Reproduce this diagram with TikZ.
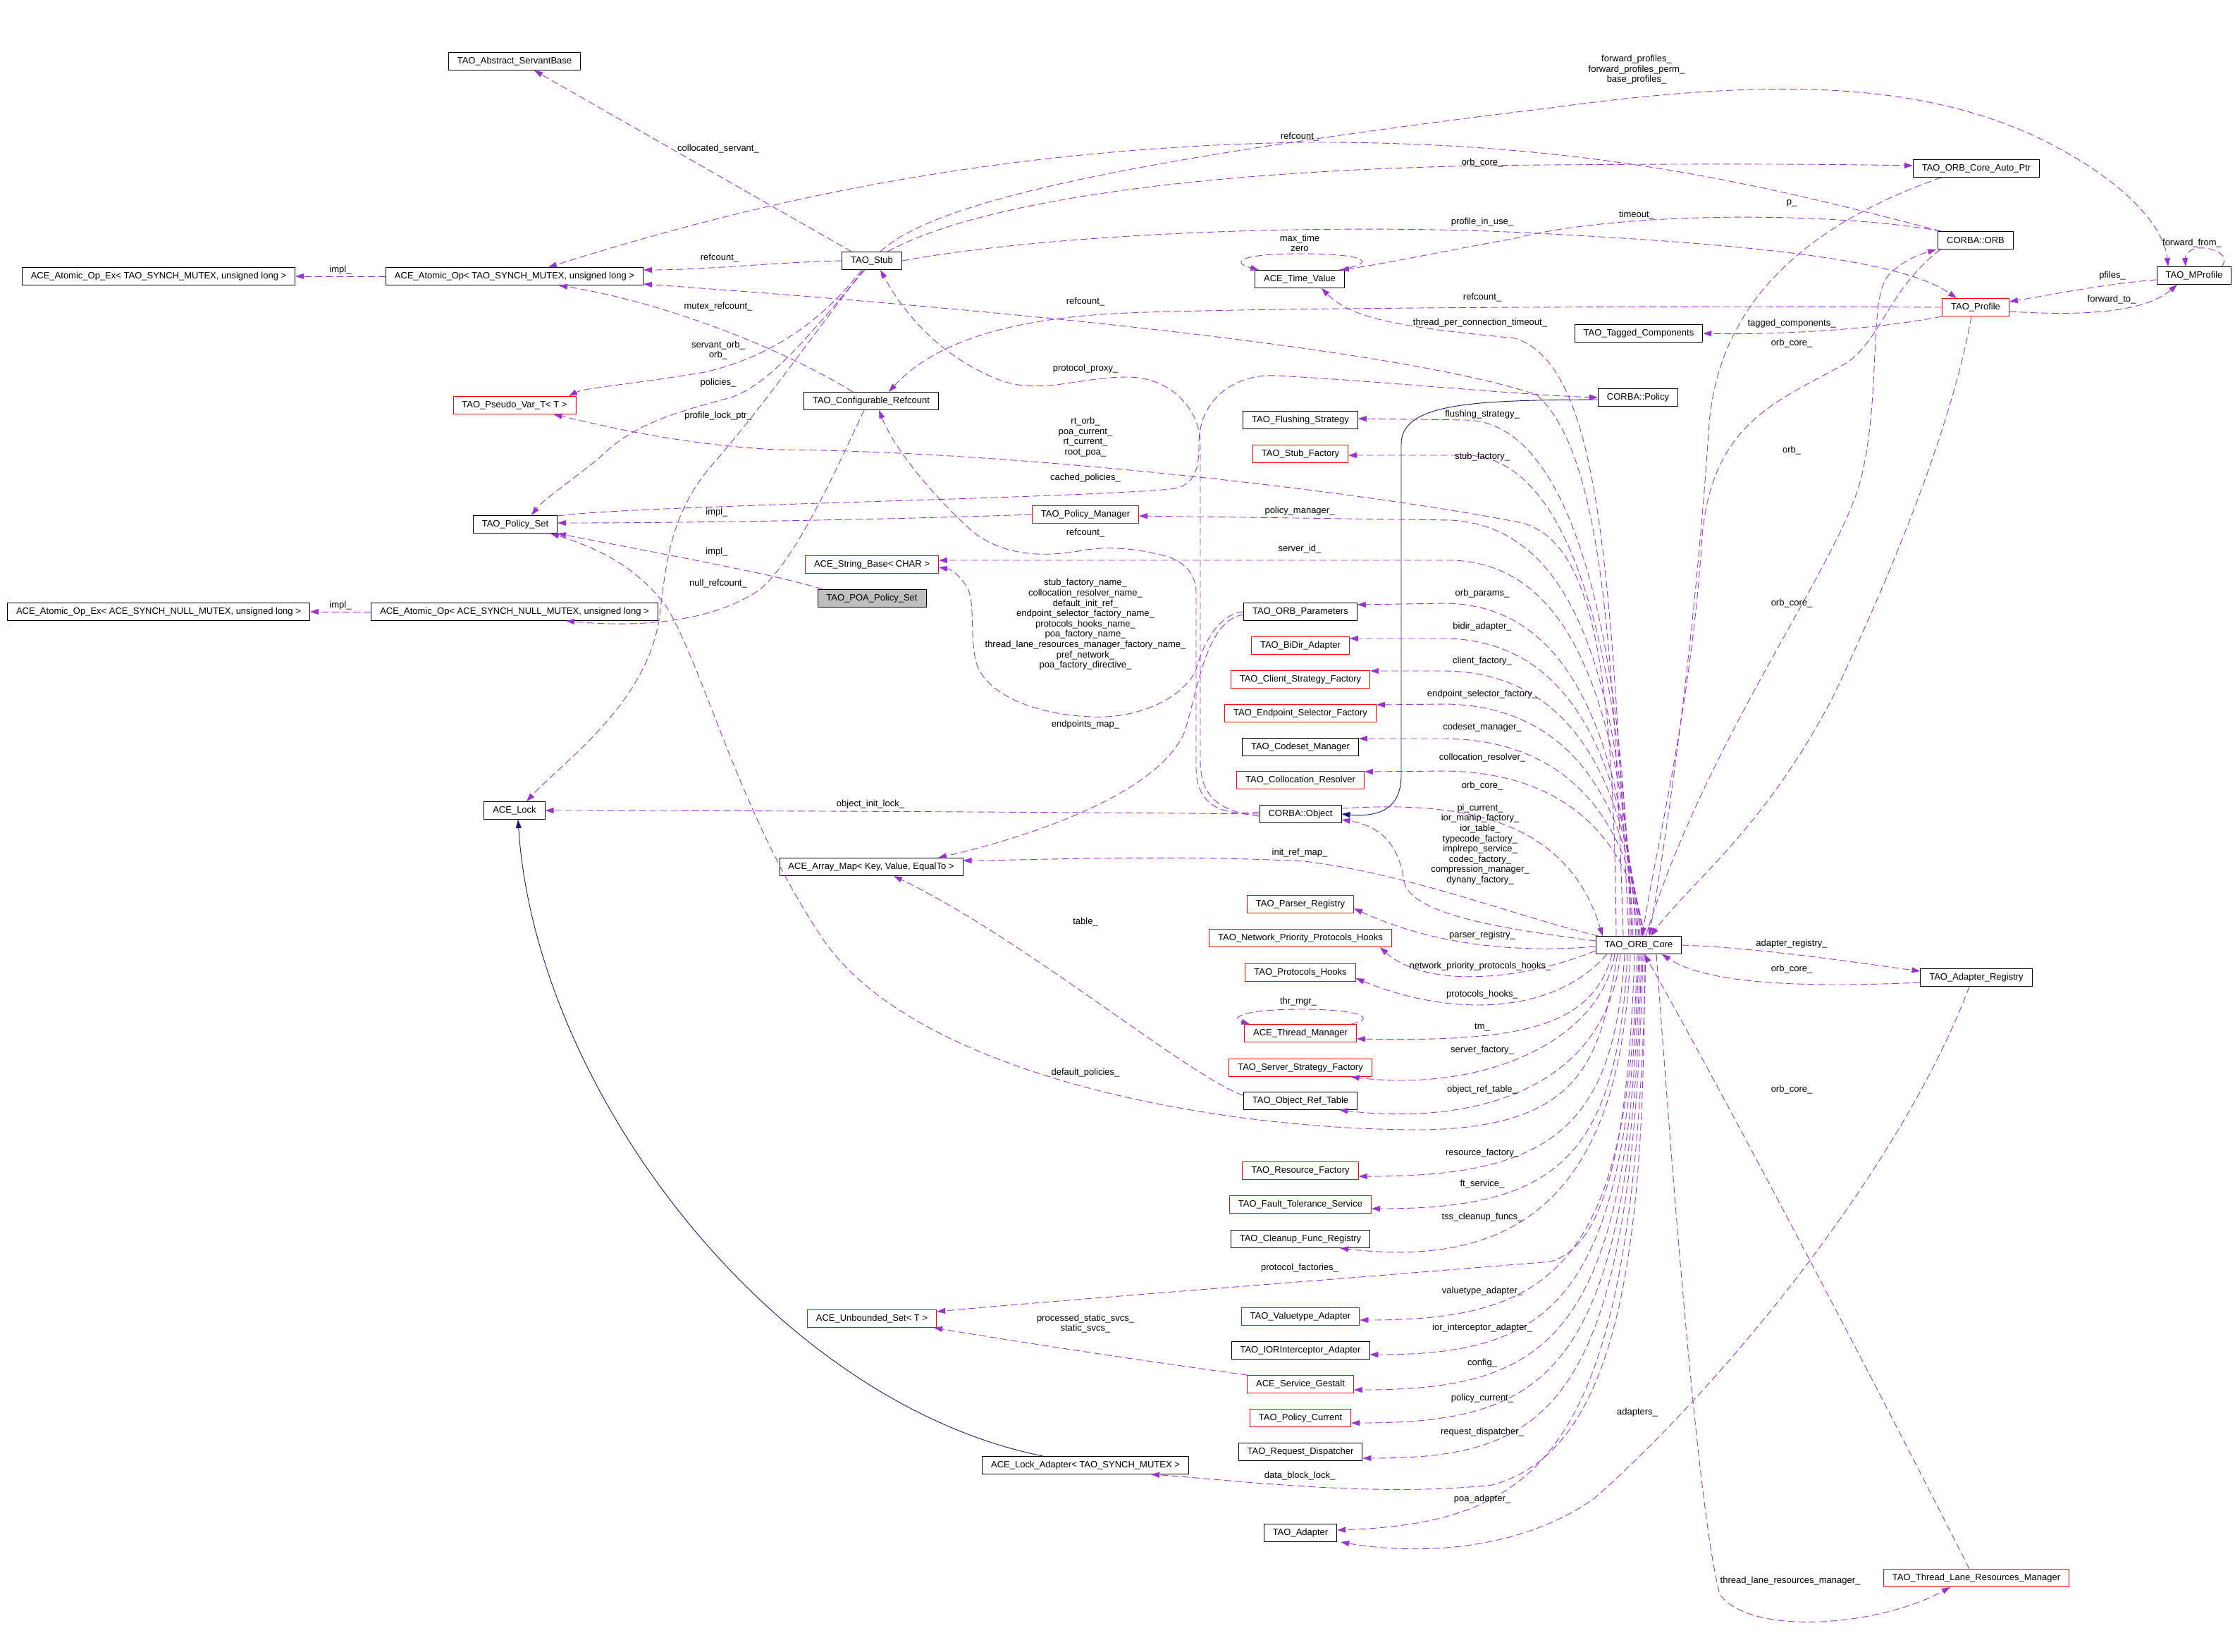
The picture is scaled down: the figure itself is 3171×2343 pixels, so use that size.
\documentclass[tikz,border=0pt]{standalone}
\usepackage{fontspec}
\setmainfont{Liberation Sans}
\usetikzlibrary{arrows.meta}
\definecolor{memcol}{HTML}{9A32CD}
\definecolor{inhcol}{HTML}{191970}
\definecolor{curgray}{HTML}{BFBFBF}
\newcommand{\gvfont}{\fontsize{13}{14.6}\selectfont}
\tikzset{
  cls/.style={draw=black, line width=0.9pt, minimum height=25pt, inner xsep=12.5pt, inner ysep=0pt, font=\gvfont},
  redcls/.style={cls, draw=red},
  curcls/.style={cls, fill=curgray},
  lbl/.style={font=\gvfont, align=center, inner sep=0pt},
  mem/.style={draw=memcol, line width=0.9pt, dash pattern=on 10pt off 5pt, -{Triangle[length=12pt,width=8pt]}},
  inh/.style={draw=inhcol, line width=0.9pt, -{Triangle[length=12pt,width=8pt]}}
}
\begin{document}
\begin{tikzpicture}[x=1pt,y=-1pt]
  \useasboundingbox (0,0) rectangle (3171,2343);

  %% classes, left part
  \node (servant) at (730,87) [cls] {TAO\_Abstract\_ServantBase};
  \node (aopex) at (225,392) [cls] {ACE\_Atomic\_Op\_Ex< TAO\_SYNCH\_MUTEX, unsigned long >};
  \node (aop) at (730,392) [cls] {ACE\_Atomic\_Op< TAO\_SYNCH\_MUTEX, unsigned long >};
  \node (pseudo) at (730,575) [redcls] {TAO\_Pseudo\_Var\_T< T >};
  \node (pset) at (731,744) [cls] {TAO\_Policy\_Set};
  \node (aopnex) at (225,868) [cls] {ACE\_Atomic\_Op\_Ex< ACE\_SYNCH\_NULL\_MUTEX, unsigned long >};
  \node (aopn) at (730,868) [cls] {ACE\_Atomic\_Op< ACE\_SYNCH\_NULL\_MUTEX, unsigned long >};
  \node (lock) at (730,1150) [cls] {ACE\_Lock};

  %% classes, middle
  \node (stub) at (1237,370) [cls] {TAO\_Stub};
  \node (cref) at (1236,569) [cls] {TAO\_Configurable\_Refcount};
  \node (strbase) at (1237,801) [redcls] {ACE\_String\_Base< CHAR >};
  \node (poaps) at (1237,849) [curcls] {TAO\_POA\_Policy\_Set};
  \node (amap) at (1236,1230) [cls] {ACE\_Array\_Map< Key, Value, EqualTo >};
  \node (uset) at (1237,1871) [redcls] {ACE\_Unbounded\_Set< T >};
  \node (pmgr) at (1540,730) [redcls] {TAO\_Policy\_Manager};
  \node (lockad) at (1540,2079) [cls] {ACE\_Lock\_Adapter< TAO\_SYNCH\_MUTEX >};

  %% members of the ORB core
  \node (tval) at (1844,396) [cls] {ACE\_Time\_Value};
  \node (flush) at (1845,596) [cls] {TAO\_Flushing\_Strategy};
  \node (stubf) at (1845,644) [redcls] {TAO\_Stub\_Factory};
  \node (oparams) at (1845,868) [cls] {TAO\_ORB\_Parameters};
  \node (bidir) at (1845,916) [redcls] {TAO\_BiDir\_Adapter};
  \node (csf) at (1845,964) [redcls] {TAO\_Client\_Strategy\_Factory};
  \node (esf) at (1845,1012) [redcls] {TAO\_Endpoint\_Selector\_Factory};
  \node (csm) at (1845,1060) [cls] {TAO\_Codeset\_Manager};
  \node (colres) at (1845,1107) [redcls] {TAO\_Collocation\_Resolver};
  \node (cobj) at (1845,1155) [cls] {CORBA::Object};
  \node (preg) at (1845,1283) [redcls] {TAO\_Parser\_Registry};
  \node (nph) at (1845,1331) [redcls] {TAO\_Network\_Priority\_Protocols\_Hooks};
  \node (phooks) at (1845,1380) [redcls] {TAO\_Protocols\_Hooks};
  \node (thrmgr) at (1845,1466) [redcls] {ACE\_Thread\_Manager};
  \node (ssf) at (1845,1515) [redcls] {TAO\_Server\_Strategy\_Factory};
  \node (oreft) at (1845,1562) [cls] {TAO\_Object\_Ref\_Table};
  \node (resf) at (1845,1661) [redcls] {TAO\_Resource\_Factory};
  \node (fts) at (1845,1709) [redcls] {TAO\_Fault\_Tolerance\_Service};
  \node (cfr) at (1845,1758) [cls] {TAO\_Cleanup\_Func\_Registry};
  \node (vta) at (1845,1868) [redcls] {TAO\_Valuetype\_Adapter};
  \node (iora) at (1845,1916) [cls] {TAO\_IORInterceptor\_Adapter};
  \node (gestalt) at (1845,1964) [redcls] {ACE\_Service\_Gestalt};
  \node (pcur) at (1845,2012) [redcls] {TAO\_Policy\_Current};
  \node (rdisp) at (1845,2060) [cls] {TAO\_Request\_Dispatcher};
  \node (adapter) at (1845,2175) [cls] {TAO\_Adapter};

  %% classes, right part
  \node (tcomp) at (2325,473) [cls] {TAO\_Tagged\_Components};
  \node (cpol) at (2324,564) [cls] {CORBA::Policy};
  \node (core) at (2325,1341) [cls] {TAO\_ORB\_Core};
  \node (autoptr) at (2804,239) [cls] {TAO\_ORB\_Core\_Auto\_Ptr};
  \node (corb) at (2803,341) [cls] {CORBA::ORB};
  \node (profile) at (2803,436) [redcls] {TAO\_Profile};
  \node (areg) at (2804,1387) [cls] {TAO\_Adapter\_Registry};
  \node (tlrm) at (2804,2239) [redcls] {TAO\_Thread\_Lane\_Resources\_Manager};
  \node (mprof) at (3113,391) [cls] {TAO\_MProfile};

  %% inheritance
  \draw[inh] ([xshift=-60pt]lockad.north) .. controls (1100,1990) and (760,1550) .. ([xshift=5pt]lock.south);
  \draw[inh] ([yshift=-3pt]cpol.west) .. controls (2100,568) and (1988,570) .. (1988,630) -- (1988,1100) .. controls (1988,1145) and (1960,1160) .. (cobj.east);

  %% left part
  \draw[mem] (aop.west) -- (aopex.east);
  \draw[mem] (aopn.west) -- (aopnex.east);
  \draw[mem] ([xshift=14pt]stub.north west) -- ([xshift=28pt]servant.south);
  \draw[mem] (stub.west) .. controls (1100,372) and (1000,383) .. ([yshift=9pt]aop.east);
  \draw[mem] ([xshift=5pt]corb.north west) .. controls (2500,262) and (2250,200) .. (1850,202) .. controls (1350,210) and (1000,310) .. ([xshift=48pt]aop.north);
  \draw[mem] ([xshift=-22pt]core.north) .. controls (2290,900) and (2270,640) .. (2180,560) .. controls (2000,500) and (1500,445) .. ([yshift=-11pt]aop.east);
  \draw[mem] ([xshift=-26pt]cref.north) .. controls (1120,500) and (950,430) .. ([xshift=63pt]aop.south);
  \draw[mem] ([xshift=-10pt]cref.south) .. controls (1180,680) and (1130,790) .. (1080,835) .. controls (1010,885) and (900,890) .. ([xshift=73pt]aopn.south);
  \draw[mem] ([xshift=-14pt]stub.south) .. controls (1170,450) and (1100,505) .. (1000,528) .. controls (900,545) and (830,550) .. ([xshift=77pt]pseudo.north);
  \draw[mem] ([xshift=-10pt]stub.south) .. controls (1160,460) and (1100,540) .. (1040,563) .. controls (960,585) and (900,600) .. (850,650) .. controls (800,690) and (770,710) .. ([xshift=23pt]pset.north);
  \draw[mem] ([xshift=-12pt]stub.south) .. controls (1150,480) and (1080,580) .. (1010,660) .. controls (950,730) and (945,800) .. (935,880) .. controls (915,1000) and (800,1080) .. ([xshift=17pt]lock.north);
  \draw[mem] ([xshift=-32pt]core.north) .. controls (2290,950) and (2260,770) .. (2160,742) .. controls (1950,700) and (1450,640) .. (1100,638) .. controls (960,630) and (860,605) .. ([xshift=-32pt]pseudo.south east);
  \draw[mem] ([yshift=12pt]pset.east) .. controls (900,717) and (1500,708) .. (1661,694) .. controls (1698,690) and (1701,660) .. (1701,630) .. controls (1701,560) and (1760,530) .. (1810,533) .. controls (1950,540) and (2150,560) .. (cpol.west);
  \draw[mem] (pmgr.west) .. controls (1300,736) and (1000,742) .. ([yshift=2pt]pset.east);
  \draw[mem] ([xshift=-70pt]poaps.north) .. controls (1100,815) and (960,790) .. (pset.south east);
  \draw[mem] ([xshift=-30pt]core.south) .. controls (2270,1500) and (2250,1605) .. (2000,1603) .. controls (1700,1600) and (1300,1520) .. (1170,1336) .. controls (1050,1160) and (1000,950) .. (945,860) .. controls (900,800) and (840,775) .. ([xshift=-10pt]pset.south east);
  \draw[mem] (cobj.west) .. controls (1500,1152) and (1000,1150) .. (lock.east);

  %% top right
  \draw[mem] ([xshift=12pt]stub.north) .. controls (1330,280) and (1650,220) .. (2200,153) .. controls (2480,115) and (2700,110) .. (2880,190) .. controls (3010,250) and (3070,320) .. ([xshift=-37pt]mprof.north);
  \draw[mem] ([xshift=22pt]stub.north) .. controls (1400,280) and (1750,236) .. (2200,234) .. controls (2450,232) and (2600,233) .. ([yshift=4pt]autoptr.west);
  \draw[mem] (stub.east) .. controls (1500,330) and (1900,315) .. (2200,332) .. controls (2500,348) and (2700,370) .. ([xshift=-27pt]profile.north);
  \draw[mem] (profile.west) .. controls (2400,434) and (1800,436) .. (1600,444) .. controls (1450,450) and (1330,480) .. ([xshift=25pt]cref.north);
  \draw[mem] ([xshift=-14pt]core.north) .. controls (2285,800) and (2270,520) .. (2150,480) .. controls (2000,465) and (1920,455) .. ([xshift=31pt]tval.south);
  \draw[mem] ([xshift=5pt]corb.north west) .. controls (2600,300) and (2300,300) .. (2150,338) .. controls (2030,360) and (1960,375) .. ([xshift=-6pt]tval.north east);
  \draw[mem] ([xshift=-8pt]tval.north east) .. controls (1960,372) and (1935,360) .. (1844,360) .. controls (1760,360) and (1745,372) .. ([xshift=6pt]tval.north west);
  \draw[mem] ([xshift=-50pt]autoptr.south) .. controls (2560,320) and (2440,430) .. (2425,600) .. controls (2405,900) and (2370,1150) .. ([xshift=15pt]core.north);
  \draw[mem] ([xshift=-50pt]corb.south) .. controls (2680,410) and (2670,480) .. (2620,515) .. controls (2520,570) and (2430,600) .. (2415,760) .. controls (2400,1000) and (2350,1200) .. ([xshift=5pt]core.north);
  \draw[mem] ([xshift=10pt]core.north) .. controls (2420,1050) and (2610,800) .. (2640,680) .. controls (2670,560) and (2650,420) .. (2680,390) .. controls (2700,370) and (2720,362) .. ([xshift=-56pt]corb.south);
  \draw[mem] (profile.south west) .. controls (2650,470) and (2500,475) .. (tcomp.east);
  \draw[mem] ([xshift=-6pt]profile.south) .. controls (2770,600) and (2690,800) .. (2600,990) .. controls (2500,1180) and (2400,1250) .. ([xshift=17pt]core.north);
  \draw[mem] ([yshift=-6pt]mprof.west) .. controls (2990,402) and (2900,420) .. ([yshift=8pt]profile.east);
  \draw[mem] ([yshift=-6pt]profile.east) .. controls (2950,448) and (3040,445) .. ([xshift=-24pt]mprof.south);
  \draw[mem] ([xshift=-14pt]mprof.north east) .. controls (3165,362) and (3140,350) .. (3118,352) .. controls (3103,354) and (3100,365) .. ([xshift=-12pt]mprof.north);

  %% ORB core to the column of members, upper half
  \draw[mem] ([xshift=-12pt]core.north) .. controls (2305,900) and (2230,598) .. (2080,596) -- ([yshift=2pt]flush.east);
  \draw[mem] ([xshift=-10pt]core.north) .. controls (2303,930) and (2230,648) .. (2080,646) -- ([yshift=-2pt]stubf.east);
  \draw[mem] ([xshift=-8pt]core.north) .. controls (2300,950) and (2230,750) .. (2060,738) -- ([yshift=-2pt]pmgr.east);
  \draw[mem] ([xshift=-4pt]core.north) .. controls (2300,1000) and (2230,800) .. (2060,795) -- ([yshift=6pt]strbase.east);
  \draw[mem] ([xshift=-2pt]core.north) .. controls (2300,1050) and (2230,858) .. (2050,856) -- ([yshift=10pt]oparams.east);
  \draw[mem] (core.north) .. controls (2305,1080) and (2230,908) .. (2050,906) -- ([yshift=10pt]bidir.east);
  \draw[mem] ([xshift=2pt]core.north) .. controls (2308,1110) and (2230,954) .. (2050,952) -- ([yshift=12pt]csf.east);
  \draw[mem] ([xshift=4pt]core.north) .. controls (2310,1140) and (2230,1001) .. (2050,999) -- ([yshift=12pt]esf.east);
  \draw[mem] ([xshift=6pt]core.north) .. controls (2312,1170) and (2230,1050) .. (2050,1048) -- ([yshift=12pt]csm.east);
  \draw[mem] ([xshift=8pt]core.north) .. controls (2314,1200) and (2230,1096) .. (2050,1094) -- ([yshift=12pt]colres.east);
  \draw[mem] ([yshift=8pt]cobj.east) .. controls (2050,1138) and (2220,1150) .. ([xshift=10pt]core.north west);
  \draw[mem] ([yshift=6pt]core.west) .. controls (2150,1320) and (2000,1300) .. (1992,1250) .. controls (1985,1200) and (1960,1172) .. ([yshift=-8pt]cobj.east);
  \draw[mem] ([xshift=4pt]core.north west) .. controls (2150,1300) and (2000,1240) .. (1850,1222) .. controls (1650,1212) and (1450,1221) .. ([yshift=9pt]amap.east);

  %% ORB core to the column of members, lower half
  \draw[mem] ([yshift=-2pt]core.west) .. controls (2120,1355) and (2010,1330) .. ([yshift=-6pt]preg.east);
  \draw[mem] ([yshift=-8pt]core.west) .. controls (2150,1395) and (2020,1400) .. ([xshift=-17pt]nph.south east);
  \draw[mem] ([xshift=-45pt]core.south) .. controls (2200,1445) and (2050,1440) .. ([yshift=-8pt]phooks.east);
  \draw[mem] ([xshift=-38pt]core.south) .. controls (2260,1460) and (2150,1478) .. ([yshift=-8pt]thrmgr.east);
  \draw[mem] ([xshift=-8pt]thrmgr.north east) .. controls (1955,1445) and (1930,1432) .. (1845,1432) .. controls (1760,1432) and (1745,1445) .. ([xshift=8pt]thrmgr.north west);
  \draw[mem] ([xshift=-34pt]core.south) .. controls (2270,1480) and (2100,1550) .. ([xshift=-30pt]ssf.south east);
  \draw[mem] ([xshift=-26pt]core.south) .. controls (2280,1540) and (2100,1598) .. ([xshift=-26pt]oreft.south east);
  \draw[mem] ([xshift=-20pt]core.south) .. controls (2290,1600) and (2200,1670) .. ([yshift=-8pt]resf.east);
  \draw[mem] ([xshift=-16pt]core.south) .. controls (2295,1650) and (2200,1715) .. ([yshift=-6pt]fts.east);
  \draw[mem] ([xshift=-12pt]core.south) .. controls (2300,1700) and (2150,1800) .. ([xshift=-43pt]cfr.south east);
  \draw[mem] ([xshift=-6pt]core.south) .. controls (2310,1650) and (2270,1770) .. (2200,1790) .. controls (1900,1815) and (1500,1845) .. ([yshift=10pt]uset.east);
  \draw[mem] ([xshift=-2pt]core.south) .. controls (2310,1800) and (2200,1873) .. ([yshift=-5pt]vta.east);
  \draw[mem] (core.south) .. controls (2310,1850) and (2200,1922) .. ([yshift=-6pt]iora.east);
  \draw[mem] ([xshift=2pt]core.south) .. controls (2312,1900) and (2200,1972) .. ([yshift=-8pt]gestalt.east);
  \draw[mem] ([xshift=4pt]core.south) .. controls (2314,1950) and (2200,2019) .. ([yshift=-7pt]pcur.east);
  \draw[mem] ([xshift=6pt]core.south) .. controls (2316,2000) and (2200,2069) .. ([yshift=-9pt]rdisp.east);
  \draw[mem] ([xshift=8pt]core.south) .. controls (2335,1800) and (2290,2060) .. (2117,2107) .. controls (1950,2125) and (1750,2100) .. ([xshift=93pt]lockad.south);
  \draw[mem] ([xshift=10pt]core.south) .. controls (2320,2050) and (2200,2160) .. ([yshift=4pt]adapter.east);
  \draw[mem] ([xshift=-75pt]gestalt.north) .. controls (1650,1935) and (1450,1905) .. ([xshift=-4pt]uset.south east);

  %% adapters and thread lanes
  \draw[mem] (core.east) .. controls (2500,1345) and (2650,1368) .. ([yshift=9pt]areg.west);
  \draw[mem] ([yshift=-7pt]areg.west) .. controls (2550,1402) and (2420,1395) .. ([xshift=33pt]core.south);
  \draw[mem] ([xshift=-10pt]areg.south) .. controls (2700,1650) and (2450,1960) .. (2262,2126) .. controls (2150,2205) and (2000,2205) .. ([xshift=5pt]adapter.south east);
  \draw[mem] ([xshift=-10pt]tlrm.north) .. controls (2680,2000) and (2450,1560) .. ([xshift=8pt]core.south);
  \draw[mem] ([xshift=25pt]core.south) .. controls (2375,1700) and (2410,2150) .. (2440,2262) .. controls (2480,2320) and (2660,2310) .. ([xshift=-37pt]tlrm.south);

  %% CORBA::Object and ORB parameters
  \draw[mem] ([yshift=-3pt]cobj.west) .. controls (1730,1152) and (1703,1130) .. (1703,1080) -- (1703,630) .. controls (1703,580) and (1660,535) .. (1600,535) .. controls (1530,535) and (1480,560) .. (1420,540) .. controls (1330,505) and (1280,440) .. ([xshift=12pt]stub.south);
  \draw[mem] ([yshift=3pt]cobj.west) .. controls (1725,1160) and (1697,1135) .. (1697,1090) -- (1697,840) .. controls (1697,815) and (1680,795) .. (1650,788) .. controls (1610,778) and (1570,774) .. (1530,782) .. controls (1470,792) and (1420,785) .. (1381,755) .. controls (1330,710) and (1270,640) .. ([xshift=11pt]cref.south);
  \draw[mem] (oparams.west) .. controls (1725,872) and (1705,920) .. (1696,953) .. controls (1670,1000) and (1600,1020) .. (1549,1017) .. controls (1480,1015) and (1400,990) .. (1385,940) .. controls (1375,900) and (1385,850) .. (1370,830) .. controls (1360,815) and (1350,808) .. ([yshift=-4pt]strbase.east);
  \draw[mem] ([yshift=-4pt]oparams.west) .. controls (1710,880) and (1700,980) .. (1680,1040) .. controls (1640,1130) and (1450,1190) .. ([xshift=95pt]amap.north);
  \draw[mem] ([yshift=8pt]oreft.west) .. controls (1690,1530) and (1450,1330) .. ([xshift=32pt]amap.south);

  %% labels
  \node (l1) at (483,383) [lbl] {impl\_};
  \node (l2) at (483,859) [lbl] {impl\_};
  \node (l3) at (1019,211) [lbl] {collocated\_servant\_};
  \node (l4) at (1021,366) [lbl] {refcount\_};
  \node (l5) at (1019,435) [lbl] {mutex\_refcount\_};
  \node (l6) at (1019,497) [lbl] {servant\_orb\_\\orb\_};
  \node (l7) at (1019,543) [lbl] {policies\_};
  \node (l8) at (1019,590) [lbl] {profile\_lock\_ptr\_};
  \node (l9) at (1017,727) [lbl] {impl\_};
  \node (l10) at (1017,783) [lbl] {impl\_};
  \node (l11) at (1019,828) [lbl] {null\_refcount\_};
  \node (l12) at (1844,194) [lbl] {refcount\_};
  \node (l13) at (2103,231) [lbl] {orb\_core\_};
  \node (l14) at (2103,315) [lbl] {profile\_in\_use\_};
  \node (l15) at (1844,345) [lbl] {max\_time\\zero};
  \node (l16) at (1540,428) [lbl] {refcount\_};
  \node (l17) at (2103,422) [lbl] {refcount\_};
  \node (l18) at (2100,458) [lbl] {thread\_per\_connection\_timeout\_};
  \node (l19) at (1540,523) [lbl] {protocol\_proxy\_};
  \node (l20) at (1540,620) [lbl] {rt\_orb\_\\poa\_current\_\\rt\_current\_\\root\_poa\_};
  \node (l21) at (1540,678) [lbl] {cached\_policies\_};
  \node (l22) at (1540,756) [lbl] {refcount\_};
  \node (l23) at (2103,588) [lbl] {flushing\_strategy\_};
  \node (l24) at (2103,648) [lbl] {stub\_factory\_};
  \node (l25) at (1844,725) [lbl] {policy\_manager\_};
  \node (l26) at (1844,779) [lbl] {server\_id\_};
  \node (l27) at (1540,886) [lbl] {stub\_factory\_name\_\\collocation\_resolver\_name\_\\default\_init\_ref\_\\endpoint\_selector\_factory\_name\_\\protocols\_hooks\_name\_\\poa\_factory\_name\_\\thread\_lane\_resources\_manager\_factory\_name\_\\pref\_network\_\\poa\_factory\_directive\_};
  \node (l28) at (1540,1028) [lbl] {endpoints\_map\_};
  \node (l29) at (2103,842) [lbl] {orb\_params\_};
  \node (l30) at (2103,889) [lbl] {bidir\_adapter\_};
  \node (l31) at (2103,938) [lbl] {client\_factory\_};
  \node (l32) at (2103,985) [lbl] {endpoint\_selector\_factory\_};
  \node (l33) at (2103,1032) [lbl] {codeset\_manager\_};
  \node (l34) at (2103,1075) [lbl] {collocation\_resolver\_};
  \node (l35) at (2103,1115) [lbl] {orb\_core\_};
  \node (l36) at (2100,1198) [lbl] {pi\_current\_\\ior\_manip\_factory\_\\ior\_table\_\\typecode\_factory\_\\implrepo\_service\_\\codec\_factory\_\\compression\_manager\_\\dynany\_factory\_};
  \node (l37) at (1235,1141) [lbl] {object\_init\_lock\_};
  \node (l38) at (1844,1210) [lbl] {init\_ref\_map\_};
  \node (l39) at (1540,1308) [lbl] {table\_};
  \node (l40) at (2103,1327) [lbl] {parser\_registry\_};
  \node (l41) at (2100,1371) [lbl] {network\_priority\_protocols\_hooks\_};
  \node (l42) at (2103,1411) [lbl] {protocols\_hooks\_};
  \node (l43) at (1842,1421) [lbl] {thr\_mgr\_};
  \node (l44) at (2103,1458) [lbl] {tm\_};
  \node (l45) at (2103,1490) [lbl] {server\_factory\_};
  \node (l46) at (1540,1522) [lbl] {default\_policies\_};
  \node (l47) at (2103,1546) [lbl] {object\_ref\_table\_};
  \node (l48) at (2103,1636) [lbl] {resource\_factory\_};
  \node (l49) at (2103,1680) [lbl] {ft\_service\_};
  \node (l50) at (2103,1727) [lbl] {tss\_cleanup\_funcs\_};
  \node (l51) at (1844,1799) [lbl] {protocol\_factories\_};
  \node (l52) at (2103,1832) [lbl] {valuetype\_adapter\_};
  \node (l53) at (1540,1878) [lbl] {processed\_static\_svcs\_\\static\_svcs\_};
  \node (l54) at (2103,1884) [lbl] {ior\_interceptor\_adapter\_};
  \node (l55) at (2103,1934) [lbl] {config\_};
  \node (l56) at (2103,1984) [lbl] {policy\_current\_};
  \node (l57) at (2323,2004) [lbl] {adapters\_};
  \node (l58) at (2103,2032) [lbl] {request\_dispatcher\_};
  \node (l59) at (1844,2094) [lbl] {data\_block\_lock\_};
  \node (l60) at (2103,2127) [lbl] {poa\_adapter\_};
  \node (l61) at (2540,2243) [lbl] {thread\_lane\_resources\_manager\_};
  \node (l62) at (2322,99) [lbl] {forward\_profiles\_\\forward\_profiles\_perm\_\\base\_profiles\_};
  \node (l63) at (2542,288) [lbl] {p\_};
  \node (l64) at (2322,305) [lbl] {timeout\_};
  \node (l65) at (2542,459) [lbl] {tagged\_components\_};
  \node (l66) at (2542,487) [lbl] {orb\_core\_};
  \node (l67) at (2542,639) [lbl] {orb\_};
  \node (l68) at (2542,856) [lbl] {orb\_core\_};
  \node (l69) at (3110,345) [lbl] {forward\_from\_};
  \node (l70) at (2997,391) [lbl] {pfiles\_};
  \node (l71) at (2996,425) [lbl] {forward\_to\_};
  \node (l72) at (2542,1339) [lbl] {adapter\_registry\_};
  \node (l73) at (2542,1375) [lbl] {orb\_core\_};
  \node (l74) at (2542,1546) [lbl] {orb\_core\_};
\end{tikzpicture}
\end{document}
